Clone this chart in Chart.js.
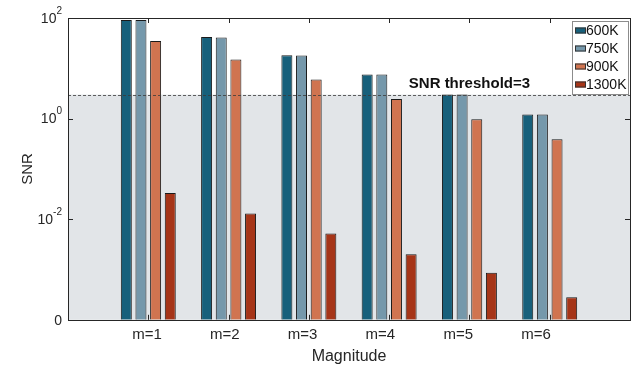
<!DOCTYPE html>
<html lang="en">
<head>
    <meta charset="UTF-8">
    <title>SNR by Magnitude</title>
    <script src="https://cdn.jsdelivr.net/npm/chart.js@4/dist/chart.umd.min.js"></script>
    <style>
        body { margin: 0; background: #fff; }
        #wrap { width: 641px; height: 366px; }
    </style>
</head>
<body>
    <div id="wrap"><canvas id="snr-chart" width="641" height="366"></canvas></div>

    <script>
        // data
        const categories = ['m=1', 'm=2', 'm=3', 'm=4', 'm=5', 'm=6'];
        const seriesNames = ['600K', '750K', '900K', '1300K'];
        const snr600 = [91, 42, 18.2, 7.5, 3.0, 1.2];
        const snr750 = [91, 41, 18, 7.5, 3.0, 1.2];
        const snr900 = [35, 15, 6.0, 2.45, 0.97, 0.39];
        const snr1300 = [0.033, 0.013, 0.0052, 0.002, 0.00086, 0.00028];
        const yTicks = [1e-4, 1e-2, 1e0, 1e2];
        const yTickLabels = [['0', ''], ['10', '-2'], ['10', '0'], ['10', '2']];
        const threshold = 3;

        const colors = ['#17607b', '#7598ab', '#d07450', '#a63518'];
        const allSeries = [snr600, snr750, snr900, snr1300];

        const datasets = allSeries.map((vals, i) => ({
            label: seriesNames[i],
            data: vals.map((v, j) => ({ x: j + 1, y: v })),
            backgroundColor: colors[i],
            borderColor: '#1a1a1a',
            borderWidth: 1,
            borderSkipped: 'bottom',
            categoryPercentage: 0.73,
            barPercentage: 0.75,
            xAxisID: 'x',
            yAxisID: 'y'
        }));

        const font = 'Arial, "Liberation Sans", Helvetica, sans-serif';
        const textColor = '#262626';

        const decorPlugin = {
            id: 'decor',
            beforeDatasetsDraw(chart) {
                const ctx = chart.ctx;
                const a = chart.chartArea;
                const y = chart.scales.y;
                const ty = y.getPixelForValue(threshold);
                ctx.save();
                ctx.fillStyle = '#e2e5e8';
                ctx.fillRect(a.left, ty, a.right - a.left, a.bottom - ty);
                ctx.restore();
            },
            afterDatasetsDraw(chart) {
                const ctx = chart.ctx;
                const a = chart.chartArea;
                const x = chart.scales.x;
                const y = chart.scales.y;
                const ty = Math.round(y.getPixelForValue(threshold)) + 0.5;
                ctx.save();

                // threshold line
                ctx.strokeStyle = '#3a3a3a';
                ctx.lineWidth = 0.8;
                ctx.setLineDash([3, 2]);
                ctx.beginPath();
                ctx.moveTo(a.left, ty);
                ctx.lineTo(a.right, ty);
                ctx.stroke();
                ctx.setLineDash([]);

                ctx.fillStyle = '#111';
                ctx.font = 'bold 15px ' + font;
                ctx.textAlign = 'center';
                ctx.textBaseline = 'alphabetic';
                ctx.fillText('SNR threshold=' + threshold, x.getPixelForValue(5), ty - 8);

                // frame
                ctx.strokeStyle = textColor;
                ctx.lineWidth = 1;
                ctx.strokeRect(Math.round(a.left) + 0.5, Math.round(a.top) + 0.5,
                    Math.round(a.right - a.left), Math.round(a.bottom - a.top));

                // inward ticks on x (top and bottom)
                ctx.beginPath();
                for (let i = 1; i <= categories.length; i++) {
                    const px = Math.round(x.getPixelForValue(i)) + 0.5;
                    ctx.moveTo(px, a.top); ctx.lineTo(px, a.top + 5);
                    ctx.moveTo(px, a.bottom); ctx.lineTo(px, a.bottom - 5);
                }
                // inward ticks on y (left and right)
                yTicks.forEach(v => {
                    const py = Math.round(y.getPixelForValue(v)) + 0.5;
                    ctx.moveTo(a.left, py); ctx.lineTo(a.left + 5, py);
                    ctx.moveTo(a.right, py); ctx.lineTo(a.right - 5, py);
                });
                ctx.stroke();

                // y tick labels with superscript exponent
                ctx.fillStyle = textColor;
                ctx.textBaseline = 'middle';
                yTicks.forEach((v, i) => {
                    const py = y.getPixelForValue(v);
                    const base = yTickLabels[i][0];
                    const exp = yTickLabels[i][1];
                    ctx.font = '10px ' + font;
                    const ew = exp ? ctx.measureText(exp).width : 0;
                    ctx.textAlign = 'left';
                    if (exp) ctx.fillText(exp, a.left - 6 - ew, py - 7);
                    ctx.font = '14px ' + font;
                    ctx.textAlign = 'right';
                    ctx.fillText(base, a.left - 6 - ew, py + 1);
                });

                // y title
                ctx.save();
                ctx.translate(28, (a.top + a.bottom) / 2);
                ctx.rotate(-Math.PI / 2);
                ctx.font = '15px ' + font;
                ctx.textAlign = 'center';
                ctx.textBaseline = 'middle';
                ctx.fillText('SNR', 0, 0);
                ctx.restore();

                // legend box
                const lx = a.right - 58, lw = 56, ltop = a.top + 3, rowH = 18;
                const lh = rowH * chart.data.datasets.length + 1;
                ctx.fillStyle = '#ffffff';
                ctx.fillRect(lx, ltop, lw, lh);
                ctx.strokeStyle = '#8c8c8c';
                ctx.strokeRect(lx + 0.5, ltop + 0.5, lw, lh);
                ctx.font = '14px ' + font;
                ctx.textAlign = 'left';
                ctx.textBaseline = 'middle';
                chart.data.datasets.forEach((ds, i) => {
                    const cy = ltop + 9.5 + i * rowH;
                    ctx.fillStyle = ds.backgroundColor;
                    ctx.fillRect(lx + 3, cy - 3, 11, 6);
                    ctx.strokeStyle = '#333';
                    ctx.strokeRect(lx + 3.5, cy - 2.5, 10, 5);
                    ctx.fillStyle = '#111';
                    ctx.fillText(ds.label, lx + 14, cy + 1);
                });

                ctx.restore();
            }
        };

        new Chart(document.getElementById('snr-chart'), {
            type: 'bar',
            data: { datasets: datasets },
            options: {
                responsive: false,
                animation: false,
                layout: { padding: { left: 68, right: 11, top: 18, bottom: 0 } },
                plugins: {
                    legend: { display: false },
                    tooltip: { enabled: false }
                },
                scales: {
                    x: {
                        type: 'linear',
                        min: 0,
                        max: 7,
                        display: false,
                        offset: false
                    },
                    xl: {
                        type: 'linear',
                        position: 'bottom',
                        min: -0.0155,
                        max: 7.208,
                        offset: false,
                        grid: { display: false, drawTicks: false },
                        border: { display: false },
                        afterBuildTicks: s => { s.ticks = categories.map((c, i) => ({ value: i + 1 })); },
                        ticks: {
                            autoSkip: false,
                            maxRotation: 0,
                            padding: 6,
                            color: textColor,
                            font: { family: font, size: 15 },
                            callback: v => categories[Math.round(v) - 1] || ''
                        },
                        title: {
                            display: true,
                            text: 'Magnitude',
                            color: textColor,
                            font: { family: font, size: 16 },
                            padding: { top: -3, bottom: 0 }
                        }
                    },
                    y: {
                        type: 'logarithmic',
                        min: 1e-4,
                        max: 1e2,
                        display: false
                    }
                }
            },
            plugins: [decorPlugin]
        });
    </script>
</body>
</html>
